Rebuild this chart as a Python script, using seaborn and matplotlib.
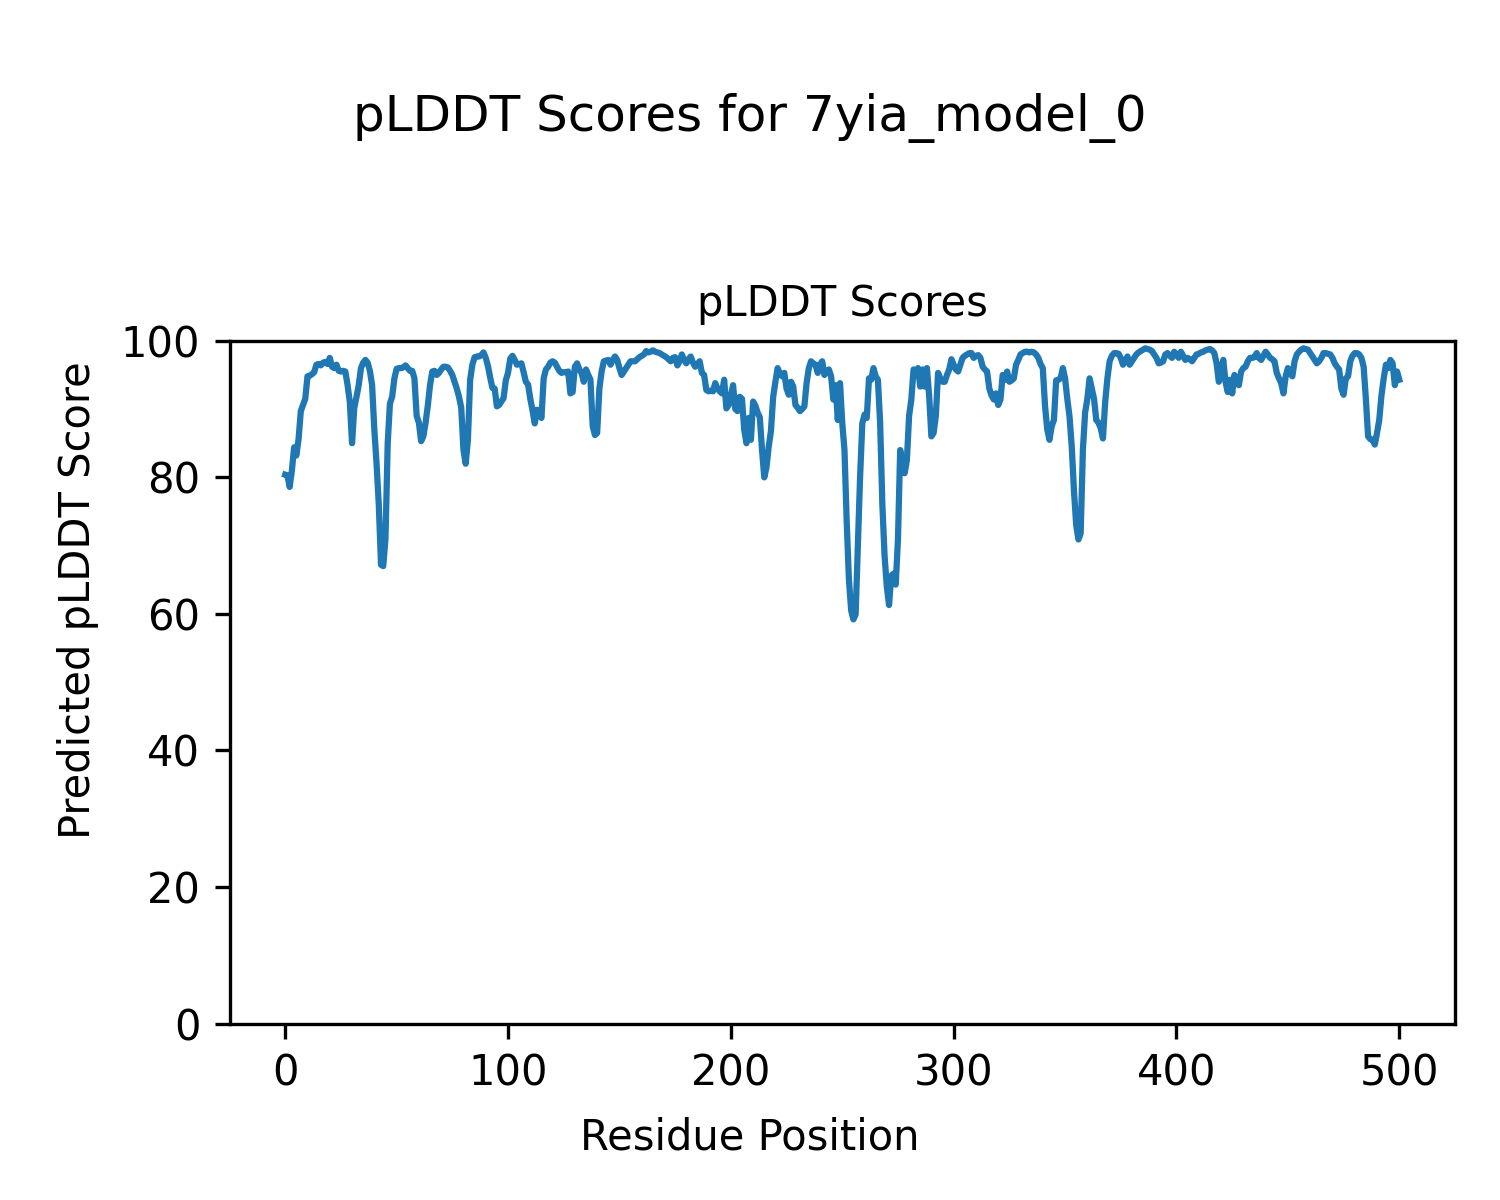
import numpy as np
import pandas as pd
import matplotlib
matplotlib.use("Agg")
import matplotlib.pyplot as plt
import seaborn as sns

model_name = "7yia_model_0"

# pLDDT per residue (residues 0..500)
plddt = [
    80.4, 80.3, 78.6, 81.0, 84.4, 83.2, 85.6, 89.7, 90.6, 91.5,
    94.8, 94.9, 95.1, 95.4, 96.5, 96.6, 96.4, 96.8, 96.9, 96.6,
    97.5, 96.2, 96.0, 96.5, 95.6, 95.5, 95.6, 95.5, 93.5, 91.0,
    85.0, 90.2, 91.8, 93.5, 96.0, 96.8, 97.2, 96.8, 95.6, 93.5,
    87.0, 82.0, 76.0, 67.2, 67.0, 71.0, 85.0, 90.8, 91.8, 94.5,
    95.9, 96.0, 96.0, 96.1, 96.4, 96.0, 95.6, 95.6, 94.5, 89.0,
    88.0, 85.3, 86.0, 88.0, 90.5, 93.5, 95.5, 95.6, 95.0, 95.3,
    95.8, 96.2, 96.2, 96.1, 95.6, 95.0, 94.0, 93.0, 91.8, 90.2,
    84.0, 82.0, 85.5, 94.3, 96.5, 97.6, 97.7, 97.7, 97.9, 98.3,
    97.5, 96.3, 94.6, 93.1, 93.0, 90.4, 90.6, 91.1, 91.6, 94.2,
    95.3, 97.4, 97.8, 97.2, 96.5, 96.6, 96.7, 95.4, 94.0, 93.6,
    91.5, 89.8, 87.9, 89.9, 89.5, 88.7, 94.5, 95.8, 96.2, 96.8,
    97.0, 96.8, 96.2, 95.6, 95.3, 95.4, 95.4, 95.5, 92.3, 92.5,
    96.2, 96.7, 95.8, 95.3, 94.0, 95.8, 95.0, 94.3, 87.5, 86.2,
    86.5, 93.0, 95.5, 97.0, 97.1, 97.2, 96.5, 97.2, 97.7, 97.2,
    96.0, 95.0, 95.5, 96.0, 96.5, 97.0, 97.0, 97.0, 97.3, 97.6,
    97.8, 98.0, 98.5, 98.3, 98.4, 98.6, 98.4, 98.3, 98.2, 98.0,
    97.8, 97.6, 97.3, 97.0, 97.5, 97.6, 96.4, 97.0, 98.0, 97.2,
    96.7, 97.3, 97.7, 96.8, 96.2, 96.6, 97.0, 95.3, 95.0, 92.8,
    92.6, 92.7, 92.6, 93.8, 93.0, 92.6, 92.3, 94.3, 90.1, 90.6,
    92.0, 93.5, 90.0, 89.7, 91.8, 91.5, 87.0, 85.0, 88.7, 85.5,
    91.1, 90.5, 89.5, 88.8, 84.0, 80.0, 81.5, 84.5, 86.8, 91.8,
    94.0, 96.0, 95.2, 94.8, 95.3, 93.0, 92.1, 94.0, 93.3, 90.6,
    90.2, 89.7, 90.0, 90.4, 93.8, 96.0, 97.0, 96.7, 96.5, 95.3,
    96.5, 97.0, 95.0, 95.5, 95.8, 94.8, 91.4, 93.5, 88.4, 93.8,
    88.0, 84.0, 73.5, 65.0, 60.5, 59.2, 59.9, 70.0, 80.0, 87.9,
    89.2, 88.7, 94.5, 94.3, 96.0, 94.8, 94.3, 88.0, 76.0, 68.5,
    64.0, 61.3, 65.6, 65.9, 64.3, 70.9, 84.0, 82.0, 80.6, 82.5,
    89.0, 91.4, 95.8, 95.5, 96.0, 93.3, 95.8, 93.3, 96.0, 92.0,
    86.0, 86.5, 89.0, 95.3, 94.5, 94.0, 94.0, 95.0, 95.8, 97.3,
    96.5, 95.8, 95.5, 96.5, 97.5, 97.8, 98.0, 98.2, 98.2, 97.5,
    97.8, 97.9, 97.5, 96.2, 95.8, 95.5, 93.0, 92.0, 91.4, 92.3,
    90.6, 91.4, 95.0, 94.3, 95.5, 94.0, 94.2, 94.5, 96.5, 97.2,
    98.0, 98.2, 98.4, 98.4, 98.3, 98.4, 98.3, 98.0, 97.5, 96.6,
    96.0, 90.5, 87.0, 85.5, 87.5, 88.4, 94.2, 94.3, 94.5, 96.0,
    94.5, 91.5, 88.9, 84.5, 78.0, 73.0, 70.9, 71.8, 84.0, 89.5,
    91.5, 94.5, 93.0, 91.5, 88.4, 88.0, 87.2, 85.7, 91.0, 94.5,
    97.0, 97.8, 98.2, 98.2, 98.1, 97.5, 96.5, 97.0, 97.7, 96.5,
    97.0, 97.5, 98.0, 98.3, 98.5, 98.7, 98.9, 98.8, 98.7, 98.5,
    98.0, 97.5, 96.7, 96.8, 97.0, 98.0, 98.2, 97.8, 97.5, 98.4,
    98.0, 97.5, 98.4, 97.8, 97.2, 97.5, 97.3, 97.0, 97.5, 98.0,
    98.1, 98.3, 98.4, 98.6, 98.7, 98.8, 98.6, 98.2, 96.7, 94.0,
    95.5, 97.2, 94.0, 92.5, 94.3, 92.3, 95.0, 94.0, 93.5, 95.5,
    96.0, 96.2, 97.0, 97.5, 97.5, 97.6, 98.2, 97.5, 97.2, 97.8,
    98.4, 98.0, 97.5, 97.3, 97.0, 95.3, 94.5, 93.8, 92.3, 94.8,
    96.0, 95.2, 94.8, 97.0, 98.0, 98.4, 98.7, 98.9, 98.8, 98.7,
    98.2, 97.7, 97.2, 96.7, 97.0, 97.5, 98.2, 98.2, 98.1, 98.0,
    97.5, 96.7, 96.2, 95.8, 93.0, 92.1, 94.5, 94.8, 97.0, 97.8,
    98.2, 98.2, 98.0, 97.5, 96.2, 91.5, 86.0, 85.6, 85.5, 84.8,
    86.5, 88.4, 92.0, 94.5, 96.5, 96.0, 97.2, 96.7, 93.5, 95.5,
    94.3,
]

df = pd.DataFrame({"residue": np.arange(len(plddt)), "plddt": plddt})

fig, ax = plt.subplots(figsize=(5, 4), dpi=300)
fig.subplots_adjust(left=0.153, right=0.97, bottom=0.147, top=0.716)

sns.lineplot(data=df, x="residue", y="plddt", ax=ax, color="#1f77b4", linewidth=1.5)

ax.set_ylim(0, 100)
ax.set_title("pLDDT Scores", fontsize=10)
ax.set_xlabel("")
ax.set_ylabel("")

# figure-level labels, centred on the whole figure like the reference
fig.suptitle(f"pLDDT Scores for {model_name}", fontsize=12, y=0.902, va="center")
fig.supxlabel("Residue Position", fontsize=10, y=0.052, va="center")
fig.supylabel("Predicted pLDDT Score", fontsize=10, x=0.052, ha="center")

fig.savefig("out.png", dpi=300)
